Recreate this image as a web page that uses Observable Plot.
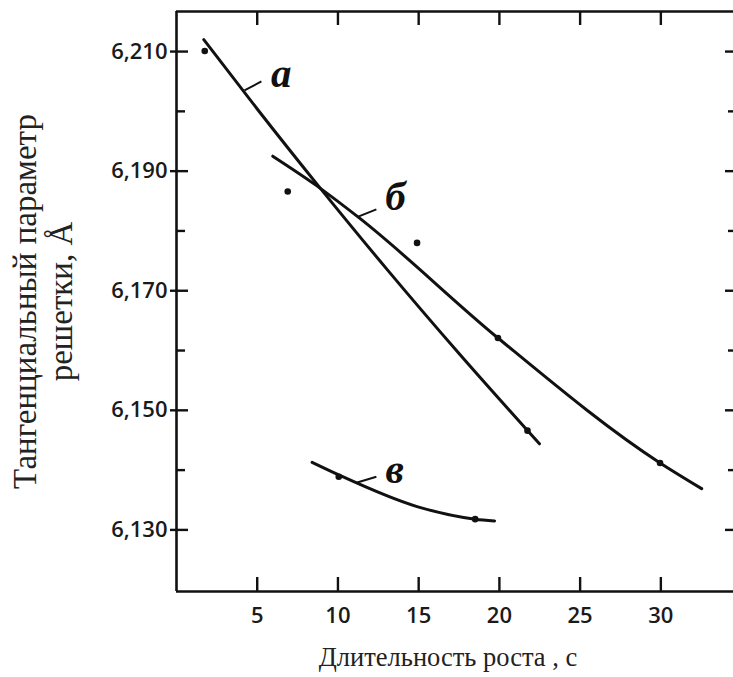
<!DOCTYPE html>
<html><head><meta charset="utf-8">
<script src="https://cdn.jsdelivr.net/npm/d3@7"></script>
<script src="https://cdn.jsdelivr.net/npm/@observablehq/plot@0.6"></script>
<style>body{margin:0;background:#fff}</style>
</head><body><div id="chart"></div>
<script>
// Curve samples (x: seconds, y: Å)
const curveA_x = [1.69, 5, 8.8, 13, 17.5, 22.48];
const curveA_y = [6.2120, 6.2004, 6.1875, 6.1737, 6.1595, 6.1444];
const curveB_x = [5.96, 8.61, 11.26, 19.91, 29.95, 32.53];
const curveB_y = [6.1925, 6.1877, 6.1823, 6.1621, 6.1412, 6.1369];
const curveV_x = [8.4, 10.05, 14.9, 18.5, 19.7];
const curveV_y = [6.1413, 6.1392, 6.1339, 6.1318, 6.1315];

// Measured points
const dots_x = [1.75, 6.89, 21.74, 14.9, 19.91, 29.95, 10.05, 18.5];
const dots_y = [6.2101, 6.1866, 6.1466, 6.1780, 6.1621, 6.1412, 6.1389, 6.1318];

// Curve labels and leaders
const labelText = ["а", "б", "в"];
const label_x = [6.49, 13.57, 13.51];
const label_y = [6.2062, 6.1857, 6.1401];
const leader_x1 = [4.21, 11.26, 11.14];
const leader_y1 = [6.2035, 6.1824, 6.1379];
const leader_x2 = [5.26, 12.38, 12.38];
const leader_y2 = [6.2050, 6.1836, 6.1389];

// Axes
const xTicks = [5, 10, 15, 20, 25, 30];
const yMajor = [6.13, 6.15, 6.17, 6.19, 6.21];
const yMinor = [6.14, 6.16, 6.18, 6.20];
const xDomain = [0, 34.5];
const yDomain = [6.1197, 6.2167];
const xTitle = "Длительность роста , с";
const yTitle = "Тангенциальный параметр\nрешетки, Å";

const W = 733, H = 677, mL = 176, mR = 0, mT = 11, mB = 86;
const FW = W - mL - mR, FH = H - mT - mB;

const toRows = (xs, ys) => xs.map((x, i) => ({x, y: ys[i]}));
const curves = [
  ...toRows(curveA_x, curveA_y).map(d => ({...d, c: "a"})),
  ...toRows(curveB_x, curveB_y).map(d => ({...d, c: "b"})),
  ...toRows(curveV_x, curveV_y).map(d => ({...d, c: "v"}))
];
const dots = toRows(dots_x, dots_y);
const labels = labelText.map((t, i) => ({t, x: label_x[i], y: label_y[i]}));
const leaders = leader_x1.map((x1, i) => ({x1, y1: leader_y1[i], x2: leader_x2[i], y2: leader_y2[i]}));
const fmt = d => d.toFixed(3).replace(".", ",");

const chart = Plot.plot({
  width: W, height: H,
  marginLeft: mL, marginRight: mR, marginTop: mT, marginBottom: mB,
  style: {fontFamily: "Open Sans", background: "#fff"},
  x: {domain: xDomain},
  y: {domain: yDomain},
  marks: [
    Plot.axisX({ticks: xTicks, tickSize: 0, tickPadding: 16, fontSize: 22, fontWeight: 600, fill: "#1a1a1a", label: null}),
    Plot.axisY({ticks: yMajor, tickSize: 0, tickPadding: 9, tickFormat: fmt, fontSize: 22, fontWeight: 600, fill: "#1a1a1a", label: null}),
    // frame (left, bottom, top)
    Plot.ruleX([xDomain[0]], {stroke: "#111", strokeWidth: 2.6}),
    Plot.ruleY(yDomain, {stroke: "#111", strokeWidth: 2.6}),
    // ticks
    Plot.tickY(yMajor, {y: d => d, insetLeft: -6, insetRight: FW - 12, stroke: "#111", strokeWidth: 2.4}),
    Plot.tickY(yMinor, {y: d => d, insetRight: FW - 9, stroke: "#111", strokeWidth: 2.4}),
    Plot.tickY(yMajor, {y: d => d, insetLeft: FW - 8, stroke: "#111", strokeWidth: 2.4}),
    Plot.tickY(yMinor, {y: d => d, insetLeft: FW - 5, stroke: "#111", strokeWidth: 2.4}),
    Plot.tickX(xTicks, {x: d => d, insetTop: FH - 14, stroke: "#111", strokeWidth: 2.4}),
    Plot.tickX(xTicks, {x: d => d, insetBottom: FH - 14, stroke: "#111", strokeWidth: 2.4}),
    // curves
    Plot.line(curves, {x: "x", y: "y", z: "c", curve: "monotone-x", stroke: "#111", strokeWidth: 3}),
    Plot.dot(dots, {x: "x", y: "y", r: 3.3, fill: "#111"}),
    Plot.link(leaders, {x1: "x1", y1: "y1", x2: "x2", y2: "y2", stroke: "#111", strokeWidth: 2}),
    Plot.text(labels, {x: "x", y: "y", text: "t", fontFamily: "Liberation Serif", fontStyle: "italic", fontWeight: "bold", fontSize: 41, fill: "#111", lineAnchor: "middle"}),
    // titles
    Plot.text([yTitle], {frameAnchor: "left", dx: -134, rotate: -90, fontSize: 33, fontFamily: "Liberation Serif", lineHeight: 1.1, textAnchor: "middle", lineAnchor: "middle", fill: "#222"}),
    Plot.text([xTitle], {frameAnchor: "bottom", dx: -7, dy: 66, fontSize: 26.5, fontFamily: "Liberation Serif", lineAnchor: "middle", fill: "#222"})
  ]
});
document.getElementById("chart").appendChild(chart);
</script>
</body></html>
